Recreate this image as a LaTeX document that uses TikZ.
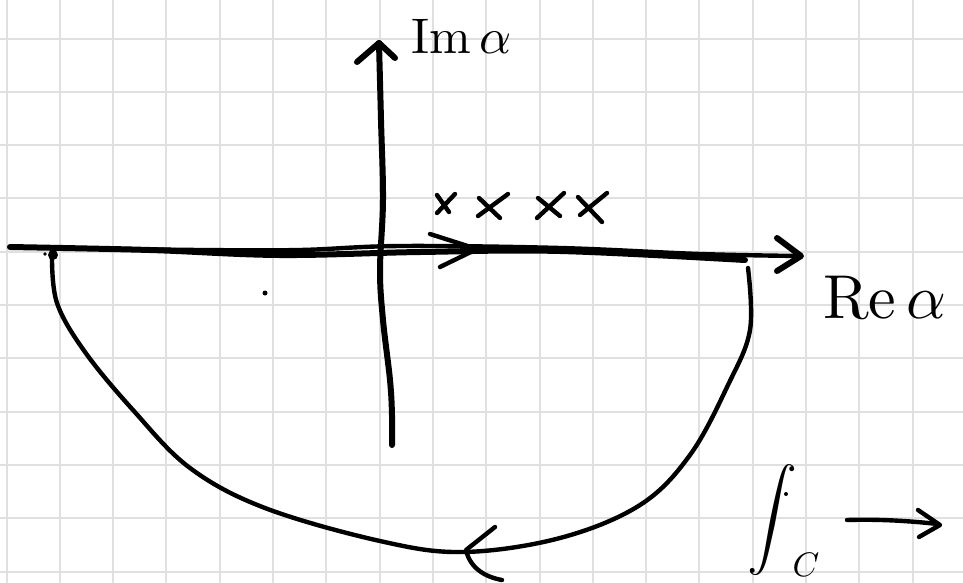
\documentclass[tikz,border=0pt]{standalone}
\begin{document}
\begin{tikzpicture}[x=1pt,y=-1pt, line cap=round, line join=round,
  gridline/.style={draw=black!12, line width=2pt},
  ink/.style={draw=black, line width=6pt},
  pen/.style={draw=black, line width=4.4pt},
  hand/.style={inner sep=0pt, text=black}]
\useasboundingbox (0,0) rectangle (963,582);
\clip (0,0) rectangle (963,582);
\fill[white] (0,0) rectangle (963,582);
% grid paper
\foreach \k in {0,...,17} \draw[gridline] ({6.5+53.3*\k},0) -- ({6.5+53.3*\k},582);
\foreach \k in {0,...,10} \draw[gridline] (0,{38.5+53.3*\k}) -- (963,{38.5+53.3*\k});

% coordinates
\coordinate (reL) at (10,247);
\coordinate (reR) at (745,260);
\coordinate (reTip) at (801,256);
\coordinate (imTip) at (379,43);
\coordinate (imBot) at (392,445);

% real axis (two strokes)
\draw[ink] plot[smooth, tension=0.6] coordinates {(reL) (150,250) (280,255) (420,252) (560,251) (reR)};
\draw[pen] plot[smooth, tension=0.6] coordinates {(50,248) (200,250) (300,250) (400,246) (560,248) (700,254) (reTip)};
\draw[ink] (777,238) -- (reTip) -- (777,271);

% imaginary axis
\draw[ink] plot[smooth, tension=0.6] coordinates {(imTip) (381,120) (383,200) (380,270) (383,320) (390,380) (392,415) (imBot)};
\draw[ink] (357,62) -- (imTip) -- (395,58);

% arrow on the real axis
\draw[pen] (430,234) -- (477,249) -- (440,267);

% poles
\draw[pen] (437,195) -- (449,212) (455,194) -- (437,213);
\draw[pen] (479,198) -- (500,218) (508,194) -- (478,216);
\draw[pen] (538,198) -- (560,216) (564,193) -- (537,218);
\draw[pen] (578,197) -- (602,222) (607,193) -- (580,215);

% contour C
\draw[pen] plot[smooth, tension=0.6] coordinates {(52,256) (57,303) (85,352) (133,410) (190,468) (265,508) (380,541) (463,552) (560,538) (640,505) (690,455) (728,385) (750,330) (748,268)};
\fill (53,255) circle (5pt);
% direction arrow on contour
\draw[pen] (495,527) .. controls (480,538) .. (466,550) .. controls (470,568) and (485,577) .. (502,580);

% stray dots
\fill (265,293) circle (2.5pt);
\fill (45,254) circle (1.8pt);
\fill (786,494) circle (2pt);

% labels
\node[hand, anchor=base west, scale=5] (im) at (410,53) {$\mathrm{Im}\,\alpha$};
\node[hand, anchor=base west, scale=6.2] (re) at (822,318) {$\mathrm{Re}\,\alpha$};

% integral and arrow
\node[hand, scale=5] (int) at (772,520) {$\displaystyle\int$};
\node[hand, anchor=north, scale=3.4] (sub) at (806,553) {$C$};
\coordinate (arS) at (847,520);
\coordinate (arE) at (938,524);
\draw[pen] (arS) .. controls (880,519) and (910,521) .. (arE);
\draw[pen] (918,510) -- (940,525) -- (919,537);
\end{tikzpicture}
\end{document}
